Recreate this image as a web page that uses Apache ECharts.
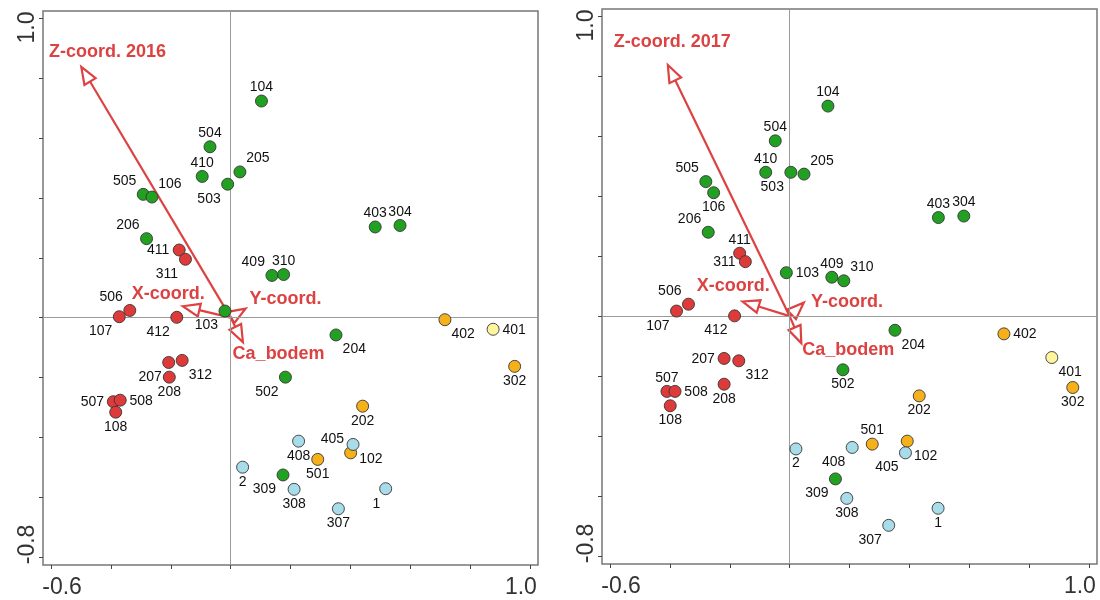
<!DOCTYPE html>
<html>
<head>
<meta charset="utf-8">
<script src="https://cdn.jsdelivr.net/npm/echarts@6/dist/echarts.min.js"></script>
<style>html,body{margin:0;padding:0;background:#fff;}#c{width:1100px;height:600px;}</style>
</head>
<body>
<div id="c"></div>
<script>
// ---------- DATA ----------
const xTicks = [-0.6, -0.4, -0.2, 0, 0.2, 0.4, 0.6, 0.8, 1.0];
const yTicks = [-0.8, -0.6, -0.4, -0.2, 0, 0.2, 0.4, 0.6, 0.8, 1.0];
const xTickLabels = ['-0.6', '1.0'];
const yTickLabels = ['-0.8', '1.0'];

// 2016 panel: [site, axis1, axis2]
const green2016 = [['104',0.103,0.724],['504',-0.069,0.571],['410',-0.095,0.472],['205',0.031,0.487],['503',-0.010,0.446],
  ['505',-0.292,0.412],['106',-0.263,0.403],['206',-0.281,0.264],['409',0.138,0.141],['310',0.177,0.144],
  ['403',0.483,0.303],['304',0.566,0.308],['103',-0.019,0.022],['204',0.352,-0.058],['502',0.183,-0.199],['309',0.175,-0.526]];
const red2016 = [['411',-0.172,0.226],['311',-0.151,0.195],['506',-0.337,0.024],['107',-0.372,0.003],['412',-0.180,0.001],
  ['207',-0.207,-0.150],['312',-0.162,-0.143],['208',-0.205,-0.199],['507',-0.392,-0.281],['508',-0.369,-0.276],['108',-0.384,-0.316]];
const orange2016 = [['402',0.716,-0.007],['302',0.949,-0.163],['202',0.441,-0.296],['102',0.401,-0.452],['501',0.291,-0.474]];
const yellow2016 = [['401',0.877,-0.039]];
const blue2016 = [['2',0.040,-0.500],['408',0.227,-0.413],['405',0.409,-0.424],['308',0.212,-0.574],['307',0.360,-0.639],['1',0.518,-0.572]];
const arrows2016 = [['Z-coord. 2016',-0.499,0.838],['X-coord.',-0.160,0.038],['Y-coord.',0.050,0.030],['Ca_bodem',0.041,-0.082]];

// 2017 panel
const green2017 = [['104',0.128,0.701],['504',-0.048,0.585],['410',-0.080,0.480],['503',0.004,0.480],['205',0.048,0.474],
  ['505',-0.280,0.449],['106',-0.254,0.412],['206',-0.272,0.280],['103',-0.011,0.145],['409',0.141,0.130],['310',0.181,0.118],
  ['403',0.497,0.329],['304',0.582,0.334],['204',0.352,-0.047],['502',0.178,-0.179],['309',0.153,-0.543]];
const red2017 = [['411',-0.167,0.210],['311',-0.148,0.182],['506',-0.338,0.040],['107',-0.378,0.017],['412',-0.184,0.001],
  ['207',-0.219,-0.141],['312',-0.170,-0.149],['208',-0.219,-0.227],['507',-0.410,-0.251],['508',-0.383,-0.251],['108',-0.399,-0.299]];
const orange2017 = [['402',0.716,-0.059],['302',0.946,-0.238],['202',0.433,-0.266],['102',0.393,-0.417],['501',0.276,-0.427]];
const yellow2017 = [['401',0.876,-0.138]];
const blue2017 = [['2',0.021,-0.443],['408',0.209,-0.438],['405',0.387,-0.456],['308',0.191,-0.608],['307',0.331,-0.698],['1',0.496,-0.641]];
const arrows2017 = [['Z-coord. 2017',-0.407,0.838],['X-coord.',-0.158,0.049],['Y-coord.',0.047,0.045],['Ca_bodem',0.039,-0.090]];

// ---------- STYLE ----------
const compass = {N:[0,-13.5],S:[0,14.5],E:[21,0.5],W:[-21,0.5],NE:[18,-13.3],NW:[-18.7,-13.3],SE:[18.3,14.6],SW:[-18.6,14.6]};
const labelPos2016 = {'104':'N','504':'N','410':'N','205':'NE','503':'SW','505':'NW','106':'NE','206':'NW','411':'W','311':'SW',
  '409':'NW','310':'N','403':'N','304':'N','506':'NW','107':'SW','412':'SW','103':'SW','207':'SW','312':'SE','208':'S',
  '507':'W','508':'E','108':'S','2':'S','309':'SW','502':'SW','402':'SE','401':'E','302':'S','204':'SE','202':'S',
  '405':[-20.6,-5.7],'102':[20.3,6],'408':'S','501':'S','308':'S','307':'S','1':[-9.3,15.4]};
const labelPos2017 = {'104':'N','504':'N','410':'N','503':'SW','205':'NE','505':'NW','106':'S','206':'NW','411':'N','311':'W',
  '103':'E','409':'N','310':'NE','403':'N','304':'N','506':'NW','107':'SW','412':'SW','207':'W','312':'SE','208':'S',
  '507':'N','508':'E','108':'S','2':'S','309':'SW','204':'SE','502':'S','402':'E','401':'SE','302':'S','202':'S',
  '501':'N','405':'SW','102':'SE','408':'SW','308':'S','307':'SW','1':'S'};
const arrowLabelOff2016 = {'Z-coord. 2016':[26.3,-14.7],'X-coord.':[-14.6,-12.5],'Y-coord.':[39.8,-9.3],'Ca_bodem':[35.7,11.8]};
const arrowLabelOff2017 = {'Z-coord. 2017':[4.5,-23.5],'X-coord.':[-9.2,-15.7],'Y-coord.':[43.2,-1],'Ca_bodem':[47,6.7]};

const COLORS = {green:'#22a022', red:'#df3a3a', orange:'#f6b01a', yellow:'#fff59c', blue:'#a9dcea'};
const ARROW = '#dd4242';
const FONT = "'Liberation Sans', Arial, sans-serif";

function pts(arr, posMap) {
  return arr.map(d => {
    const p = posMap[d[0]];
    const off = Array.isArray(p) ? p : compass[p];
    return {name: d[0], value: [d[1], d[2]], label: {offset: off}};
  });
}

function scatter(arr, posMap, color, idx, withZero) {
  const s = {
    type: 'scatter', xAxisIndex: idx, yAxisIndex: idx, z: 5,
    symbol: 'circle', symbolSize: 12,
    itemStyle: {color: color, borderColor: '#353535', borderWidth: 0.9, opacity: 1},
    label: {show: true, position: 'inside', formatter: '{b}', color: '#111', fontSize: 14, fontFamily: FONT},
    emphasis: {disabled: true},
    data: pts(arr, posMap)
  };
  if (withZero) {
    s.markLine = {silent: true, symbol: 'none', animation: false, label: {show: false},
      lineStyle: {color: '#9a9a9a', width: 1, type: 'solid'},
      data: [{xAxis: 0}, {yAxis: 0}]};
  }
  return s;
}

function arrowSeries(arr, offMap, idx) {
  return {
    type: 'custom', xAxisIndex: idx, yAxisIndex: idx, z: 3, silent: true,
    data: arr.map(a => ({name: a[0], value: [a[1], a[2]]})),
    renderItem: function (params, api) {
      const name = arr[params.dataIndex][0];
      const tip = api.coord([api.value(0), api.value(1)]);
      const o = api.coord([0, 0]);
      const dx = tip[0] - o[0], dy = tip[1] - o[1];
      const len = Math.sqrt(dx * dx + dy * dy);
      const ux = dx / len, uy = dy / len;
      const L = 17, W = 6.5;
      const bx = tip[0] - ux * L, by = tip[1] - uy * L;
      const lx = bx - uy * W, ly = by + ux * W;
      const rx = bx + uy * W, ry = by - ux * W;
      const off = offMap[name];
      return {
        type: 'group',
        children: [
          {type: 'line', shape: {x1: o[0], y1: o[1], x2: bx, y2: by}, style: {stroke: ARROW, lineWidth: 2.2}},
          {type: 'polygon', shape: {points: [tip, [lx, ly], [rx, ry]]}, style: {fill: '#fff', stroke: ARROW, lineWidth: 2.2, lineJoin: 'miter'}},
          {type: 'text', x: tip[0] + off[0], y: tip[1] + off[1],
            style: {text: name, fill: ARROW, font: "bold 18px " + FONT, align: 'center', verticalAlign: 'middle'}}
        ]
      };
    }
  };
}

function xAxis(idx) {
  return {
    type: 'value', gridIndex: idx, min: -0.627, max: 1.027,
    splitLine: {show: false},
    axisLine: {show: false, onZero: false},
    axisTick: {show: true, inside: false, length: 4, customValues: xTicks, lineStyle: {color: '#444', width: 1}},
    axisLabel: {
      customValues: xTickLabels.map(Number), margin: 11,
      formatter: v => (v < 0 ? '{lo|' : '{hi|') + xTickLabels[v < 0 ? 0 : 1] + '}',
      rich: {
        lo: {fontSize: 23, fontFamily: FONT, color: '#333', padding: [0, 0, 0, 22]},
        hi: {fontSize: 23, fontFamily: FONT, color: '#333', padding: [0, 18, 0, 0]}
      }
    }
  };
}
function yAxis(idx) {
  return {
    type: 'value', gridIndex: idx, min: -0.827, max: 1.025,
    splitLine: {show: false},
    axisLine: {show: false, onZero: false},
    axisTick: {show: true, inside: false, length: 4, customValues: yTicks, lineStyle: {color: '#444', width: 1}},
    axisLabel: {
      customValues: yTickLabels.map(Number), rotate: 90, margin: 4,
      formatter: v => (v < 0 ? '{lo|' : '{hi|') + yTickLabels[v < 0 ? 0 : 1] + '}',
      rich: {
        lo: {fontSize: 23, fontFamily: FONT, color: '#333', padding: [0, 0, 0, 25]},
        hi: {fontSize: 23, fontFamily: FONT, color: '#333', padding: [0, 18, 0, 0]}
      }
    }
  };
}

const chart = echarts.init(document.getElementById('c'), null, {renderer: 'canvas'});
chart.setOption({
  animation: false,
  backgroundColor: '#fff',
  grid: [
    {left: 43, top: 11, width: 495, height: 554, show: true, borderColor: '#777', borderWidth: 1.5, backgroundColor: 'transparent'},
    {left: 602, top: 9, width: 495, height: 555, show: true, borderColor: '#777', borderWidth: 1.5, backgroundColor: 'transparent'}
  ],
  xAxis: [xAxis(0), xAxis(1)],
  yAxis: [yAxis(0), yAxis(1)],
  series: [
    arrowSeries(arrows2016, arrowLabelOff2016, 0),
    scatter(green2016, labelPos2016, COLORS.green, 0, true),
    scatter(red2016, labelPos2016, COLORS.red, 0, false),
    scatter(orange2016, labelPos2016, COLORS.orange, 0, false),
    scatter(yellow2016, labelPos2016, COLORS.yellow, 0, false),
    scatter(blue2016, labelPos2016, COLORS.blue, 0, false),
    arrowSeries(arrows2017, arrowLabelOff2017, 1),
    scatter(green2017, labelPos2017, COLORS.green, 1, true),
    scatter(red2017, labelPos2017, COLORS.red, 1, false),
    scatter(orange2017, labelPos2017, COLORS.orange, 1, false),
    scatter(yellow2017, labelPos2017, COLORS.yellow, 1, false),
    scatter(blue2017, labelPos2017, COLORS.blue, 1, false)
  ]
});
</script>
</body>
</html>
